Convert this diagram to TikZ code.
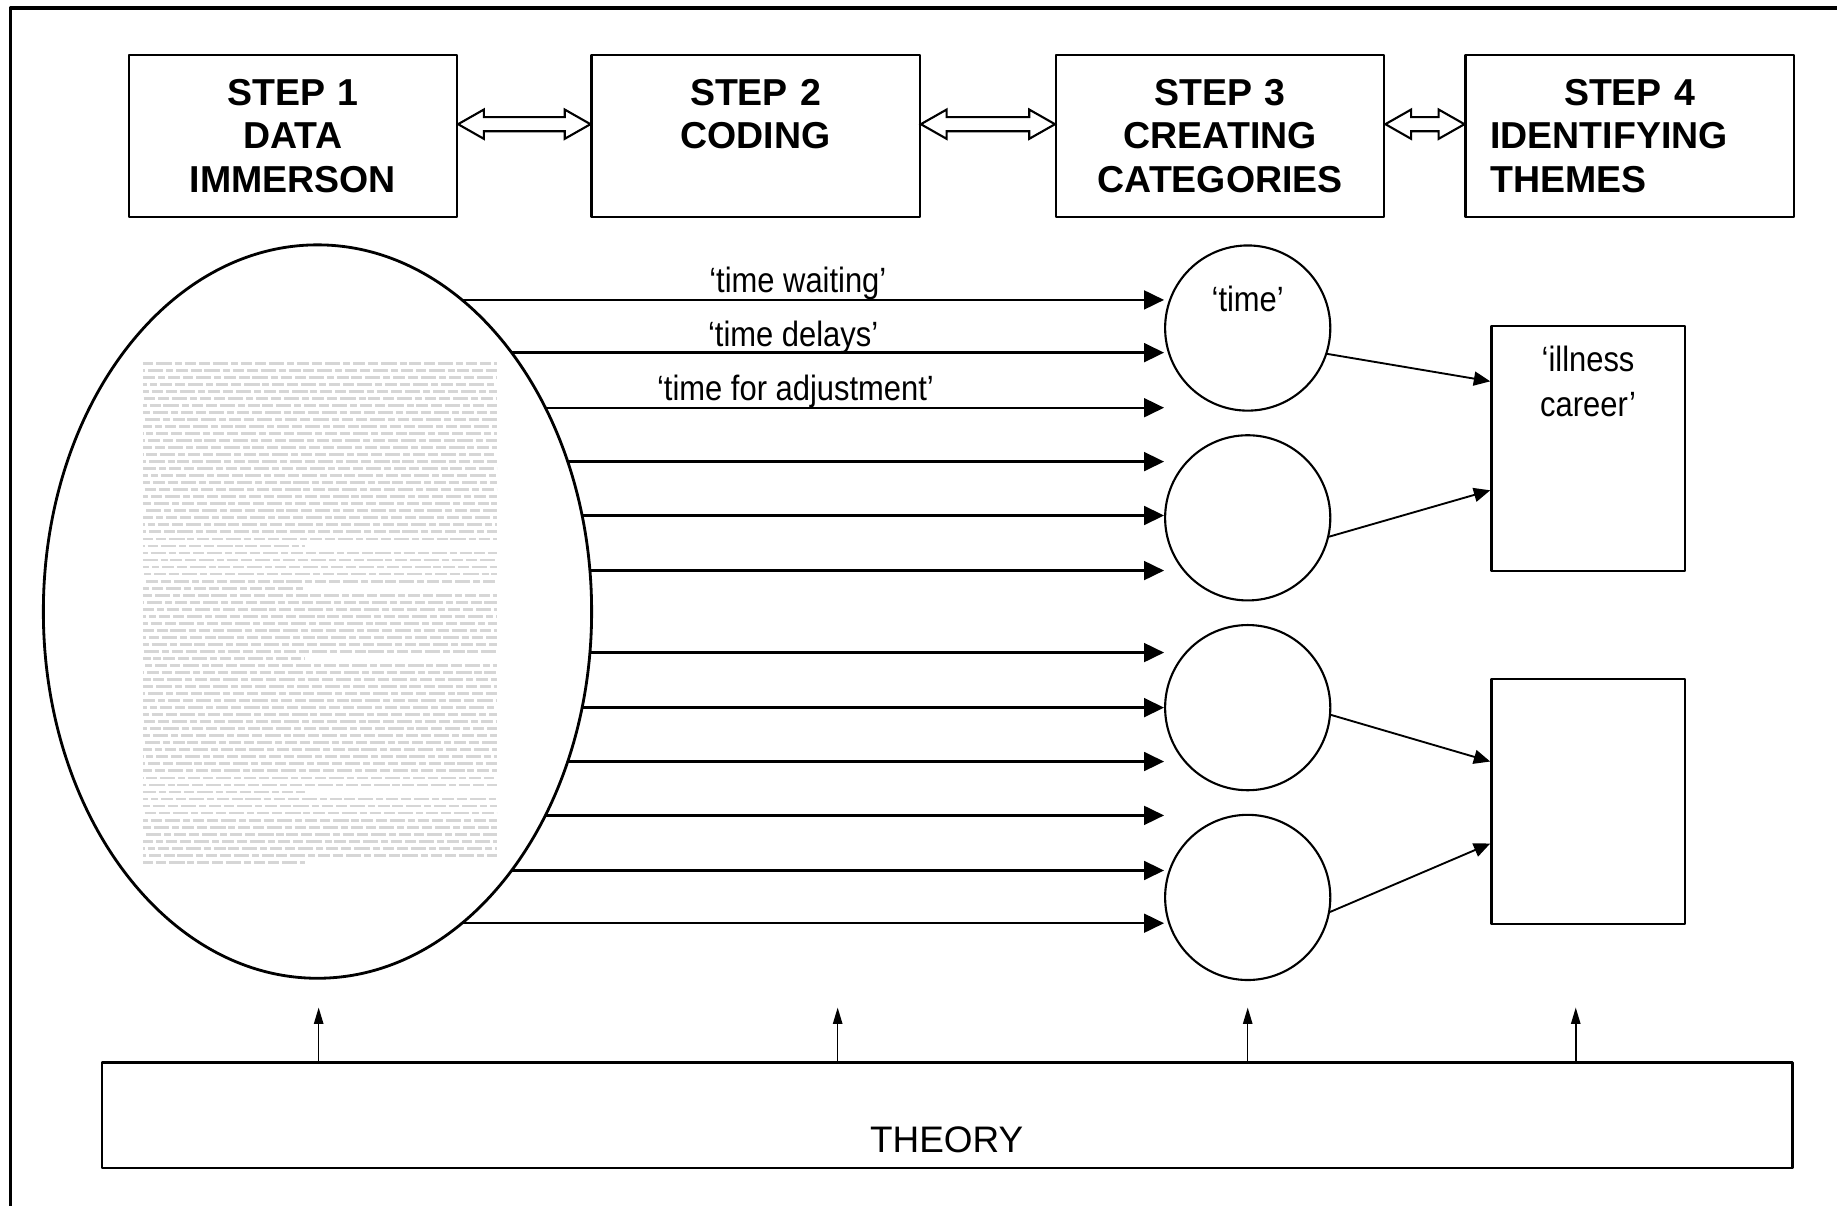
\documentclass[tikz,border=0pt]{standalone}
\usepackage{fontspec}
\setmainfont{Liberation Sans}
\newfontfamily\narrowsf[FakeStretch=0.88]{Liberation Sans}
\usetikzlibrary{arrows.meta,calc,shapes.geometric}
\newcommand\dblarrow[2]{%
  \draw[dbl] ([yshift=10pt]#1.east) -- ++(22,-12.5) -- ++(0,6.5)
    -- ($([yshift=10pt]#2.west)+(-22,-6)$) -- ++(0,-6.5) -- ([yshift=10pt]#2.west)
    -- ++(-22,12.5) -- ++(0,-6.5) -- ($([yshift=10pt]#1.east)+(22,6)$) -- ++(0,6.5) -- cycle;}
\begin{document}
\begin{tikzpicture}[x=1pt, y=-1pt, line join=round, line cap=round,
    stepbox/.style={draw, line width=2pt, minimum width=280pt, minimum height=138pt,
      text width=238pt, align=center, font=\fontsize{32}{37}\selectfont\bfseries},
    dbl/.style={fill=white, line width=1.8pt, line join=miter},
    catnode/.style={draw, circle, line width=1.8pt, minimum size=141pt, inner sep=0pt},
    themebox/.style={draw, line width=2pt, minimum width=165pt, minimum height=209pt},
    lbl/.style={inner sep=0pt, align=center, font=\narrowsf\fontsize{30}{38}\selectfont},
    code/.style={line width=2pt, -{Triangle[length=17pt,width=16pt]}},
    link/.style={line width=1.6pt, -{Triangle[length=14pt,width=12pt]}},
    feed/.style={line width=1.3pt, -{Triangle[length=14pt,width=8pt]}}]
  \useasboundingbox (0,0) rectangle (1568,1029);
  \draw[line width=3pt, line cap=butt] (9,1029) -- (9,7) -- (1568,7);

  \node[stepbox] (s1) at (250,116) {STEP 1\\DATA\\IMMERSON};
  \node[stepbox] (s2) at (645,116) {STEP 2\\CODING\\\mbox{}};
  \node[stepbox] (s3) at (1041.5,116) {STEP 3\\CREATING\\CATEGORIES};
  \node[stepbox, align=left] (s4) at (1391,116) {\makebox[238pt]{STEP 4}\\IDENTIFYING\\THEMES};
  \dblarrow{s1}{s2}
  \dblarrow{s2}{s3}
  \dblarrow{s3}{s4}

  \foreach \i in {0,...,71}{
    \pgfmathsetmacro\xe{(\i==26||\i==32||\i==42||\i==61||\i==71) ? 260 : 424}
    \pgfmathsetmacro\ph{mod(\i*7,46)}
    \draw[gray!32, line width=2.4pt, line cap=butt,
      dash pattern=on 9pt off 2.5pt on 13pt off 2.5pt on 6pt off 2.5pt on 10pt off 2.5pt,
      dash phase=\ph pt] (122,310+6*\i) -- (\xe,310+6*\i);
  }
  \node[draw, ellipse, line width=2.4pt, minimum width=468pt, minimum height=626pt, inner sep=0pt] (doc) at (271,522) {};

  \foreach \y [count=\i] in {280,442,604,766}
    \node[catnode] (cat\i) at (1065,\y) {};
  \node[lbl, anchor=base] (timecat) at ([yshift=-57pt]cat1.north) {‘time’};

  \foreach \d [count=\i] in {-266,-221,-174,-128,-82,-35,35,82,128,174,221,266}
    \draw[code] ($(doc.center)+({234*sqrt(1-(\d/313)^2)},\d)$) coordinate (c\i) -- (c\i -| cat1.west);
  \node[lbl, anchor=base] (wait) at (681,250) {‘time waiting’};
  \node[lbl, anchor=base] (delay) at (677,296) {‘time delays’};
  \node[lbl, anchor=base] (adjust) at (679,341.5) {‘time for adjustment’};

  \node[themebox] (theme1) at (1355.5,383) {};
  \node[themebox] (theme2) at (1355.5,684) {};
  \node[lbl, anchor=north] (career) at ([yshift=-18pt]theme1.north) {‘illness\\career’};
  \draw[link] (cat1.-18) -- ([yshift=57.5pt]theme1.west);
  \draw[link] (cat2.-13) -- ([yshift=-35.5pt]theme1.west);
  \draw[link] (cat3.-5) -- ([yshift=34pt]theme2.west);
  \draw[link] (cat4.-10) -- ([yshift=-36pt]theme2.west);

  \node[draw, line width=2pt, minimum width=1443pt, minimum height=90pt] (theory) at (808.5,952) {};
  \node[inner sep=0pt, font=\fontsize{31.5}{36}\selectfont] (theorytxt) at (808,973) {THEORY};
  \foreach \x in {272,715,1065,1345}
    \draw[feed] (theory.north -| \x,0) -- (\x,860);
\end{tikzpicture}
\end{document}
